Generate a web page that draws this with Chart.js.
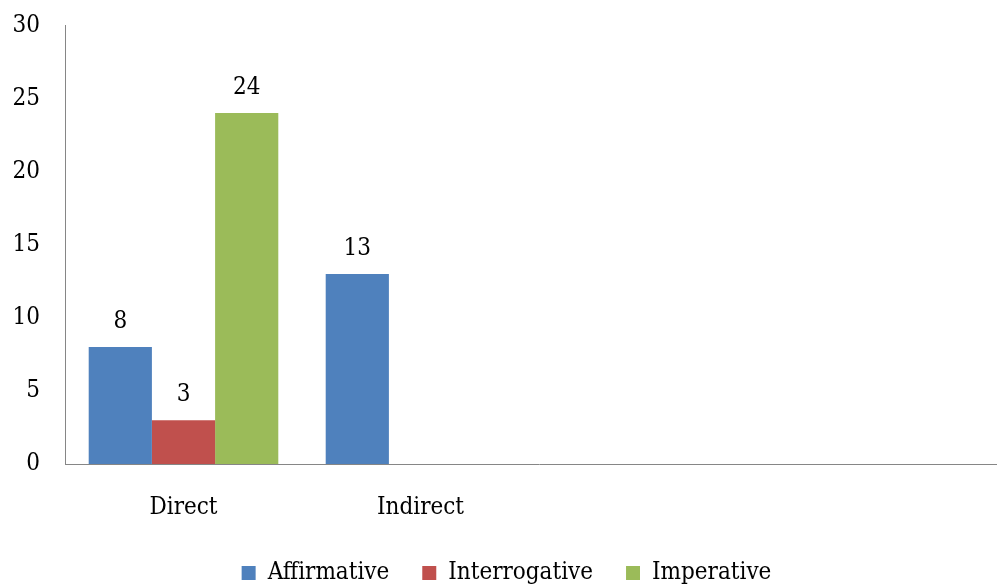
<!DOCTYPE html>
<html>
<head>
<meta charset="utf-8">
<script src="https://cdn.jsdelivr.net/npm/chart.js@4/dist/chart.umd.min.js"></script>
<style>
  html, body { margin: 0; padding: 0; background: #fff; overflow: hidden; }
  #wrap { width: 1028px; height: 609px; margin-top: -14px; }
</style>
</head>
<body>
<div id="wrap"><canvas id="speech-chart"></canvas></div>
<script>
// chart data
var categories = ["Direct", "Indirect", "", ""];
var affirmative = [8, 13, null, null];
var interrogative = [3, null, null, null];
var imperative = [24, null, null, null];
var yTicks = [0, 5, 10, 15, 20, 25, 30];

var axisColor = "#868686";
var fontFamily = "'DejaVu Serif Condensed', 'Liberation Serif', serif";
var fontSize = 24;

// draws the value above each bar
var valueLabels = {
  id: "valueLabels",
  afterDatasetsDraw: function(chart) {
    var ctx = chart.ctx;
    ctx.save();
    ctx.font = fontSize + "px " + fontFamily;
    ctx.fillStyle = "#000";
    ctx.textAlign = "center";
    ctx.textBaseline = "middle";
    chart.data.datasets.forEach(function(ds, i) {
      var meta = chart.getDatasetMeta(i);
      meta.data.forEach(function(bar, j) {
        var v = ds.data[j];
        if (v === null || v === undefined) return;
        ctx.fillText(String(v), bar.x, bar.y - 25);
      });
    });
    ctx.restore();
  }
};

var ctx = document.getElementById("speech-chart");
var speechChart = new Chart(ctx, {
  type: "bar",
  data: {
    labels: categories,
    datasets: [
      { label: "Affirmative", data: affirmative, backgroundColor: "#4F81BD" },
      { label: "Interrogative", data: interrogative, backgroundColor: "#C0504D" },
      { label: "Imperative", data: imperative, backgroundColor: "#9BBB59" }
    ]
  },
  plugins: [valueLabels],
  options: {
    responsive: true,
    maintainAspectRatio: false,
    animation: false,
    datasets: {
      bar: { categoryPercentage: 0.8, barPercentage: 1.0, skipNull: false }
    },
    layout: { padding: { top: 11, left: 0, right: 15, bottom: 0 } },
    plugins: {
      tooltip: { enabled: false },
      legend: {
        position: "bottom",
        labels: {
          boxWidth: 14,
          boxHeight: 14,
          padding: 33,
          color: "#000",
          font: { family: fontFamily, size: fontSize }
        }
      }
    },
    scales: {
      x: {
        grid: { display: false, drawTicks: false },
        border: { display: true, color: axisColor, width: 1 },
        ticks: {
          color: "#000",
          padding: 29,
          font: { family: fontFamily, size: fontSize }
        },
        afterFit: function(scale) { scale.height = 64; }
      },
      y: {
        min: 0,
        max: 30,
        grid: { display: false, drawTicks: false },
        border: { display: true, color: axisColor, width: 1 },
        afterBuildTicks: function(scale) {
          scale.ticks = yTicks.map(function(v) { return { value: v }; });
        },
        ticks: {
          color: "#000",
          padding: 25,
          font: { family: fontFamily, size: fontSize }
        },
        afterFit: function(scale) { scale.width = 65; }
      }
    }
  }
});
</script>
</body>
</html>
